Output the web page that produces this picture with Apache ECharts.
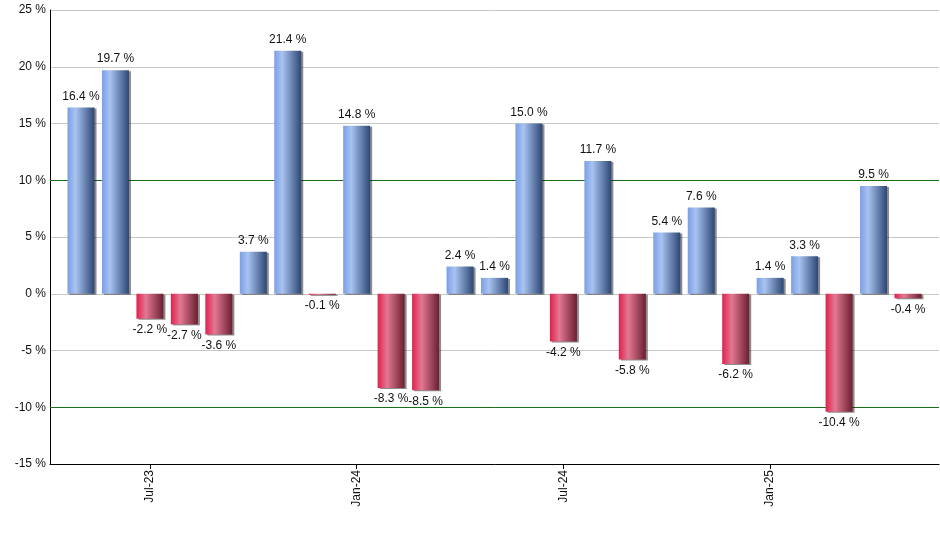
<!DOCTYPE html>
<html>
<head>
<meta charset="utf-8">
<script src="https://cdn.jsdelivr.net/npm/echarts@6/dist/echarts.min.js"></script>
<style>
html,body{margin:0;padding:0;background:#fff;}
#chart{width:940px;height:550px;}
</style>
</head>
<body>
<div id="chart"></div>
<script>
// monthly returns, May-23 .. May-25
var months = ['May-23','Jun-23','Jul-23','Aug-23','Sep-23','Oct-23','Nov-23','Dec-23',
	'Jan-24','Feb-24','Mar-24','Apr-24','May-24','Jun-24','Jul-24','Aug-24','Sep-24','Oct-24',
	'Nov-24','Dec-24','Jan-25','Feb-25','Mar-25','Apr-25','May-25'];
var returns = [16.4, 19.7, -2.2, -2.7, -3.6, 3.7, 21.4, -0.1, 14.8, -8.3, -8.5, 2.4, 1.4,
	15.0, -4.2, 11.7, -5.8, 5.4, 7.6, -6.2, 1.4, 3.3, -10.4, 9.5, -0.4];
var labelIdx = [2, 8, 14, 20];
var yTicks = [-15, 25, 5];

var COLOR = {
	UP: new echarts.graphic.LinearGradient(0, 0, 1, 0, [
		{offset: 0, color: '#7b9ee6'},
		{offset: 0.3, color: '#a9c3f1'},
		{offset: 1, color: '#2d4774'}
	]),
	DOWN: new echarts.graphic.LinearGradient(0, 0, 1, 0, [
		{offset: 0, color: '#e2204c'},
		{offset: 0.35, color: '#e27893'},
		{offset: 1, color: '#6a1f30'}
	]),
	GRID: '#c8c8c8',
	MARK: '#1a6e1a'
};

var barData = returns.map(function(v, i){
	return {
		value: [i, v],
		itemStyle: {color: v >= 0 ? COLOR.UP : COLOR.DOWN},
		label: {position: v >= 0 ? 'top' : 'bottom'}
	};
});

var myChart = echarts.init(document.getElementById('chart'));
myChart.setOption({
	animation: false,
	grid: {left: 50, right: 1, top: 10, bottom: 86},
	xAxis: {
		type: 'value',
		min: -0.9,
		max: 24.9,
		splitLine: {show: false},
		axisLine: {show: true, onZero: false, lineStyle: {color: '#000', width: 1}},
		axisTick: {show: true, length: 5, customValues: labelIdx, lineStyle: {color: '#000'}},
		axisLabel: {
			customValues: labelIdx,
			rotate: 90,
			margin: 6,
			color: '#111',
			fontFamily: 'Arial, Liberation Sans',
			fontSize: 12,
			formatter: function(v){ return months[Math.round(v)]; }
		}
	},
	yAxis: {
		type: 'value',
		min: yTicks[0],
		max: yTicks[1],
		interval: yTicks[2],
		axisLine: {show: true, onZero: false, lineStyle: {color: '#000', width: 1}},
		axisTick: {show: false},
		axisLabel: {
			color: '#111',
			fontFamily: 'Arial, Liberation Sans',
			fontSize: 12,
			margin: 4,
			formatter: '{value} %'
		},
		splitLine: {show: true, lineStyle: {color: COLOR.GRID, width: 1}}
	},
	series: [{
		type: 'bar',
		barWidth: 27,
		data: barData,
		itemStyle: {
			shadowColor: 'rgba(0,0,0,0.45)',
			shadowOffsetX: 2,
			shadowOffsetY: 1,
			shadowBlur: 0
		},
		label: {
			show: true,
			distance: 5,
			color: '#111',
			fontFamily: 'Arial, Liberation Sans',
			fontSize: 12,
			formatter: function(p){ return p.value[1].toFixed(1) + ' %'; }
		},
		markLine: {
			silent: true,
			symbol: 'none',
			z: 1,
			label: {show: false},
			lineStyle: {color: COLOR.MARK, type: 'solid', width: 1},
			data: [{yAxis: 10}, {yAxis: -10}]
		}
	}]
});
</script>
</body>
</html>
